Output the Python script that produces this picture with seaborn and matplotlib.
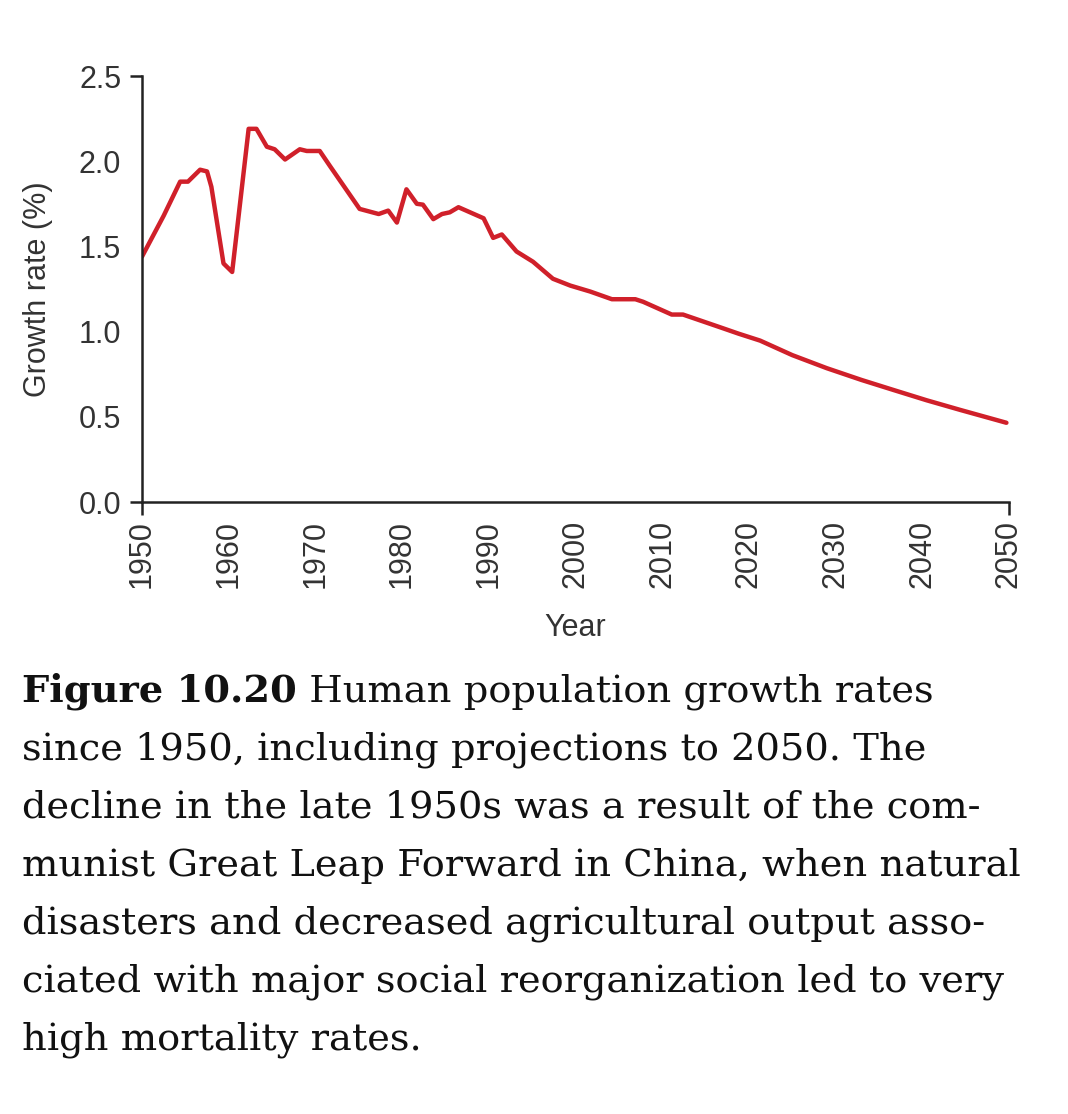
import matplotlib
matplotlib.use("Agg")
import matplotlib.pyplot as plt
import seaborn as sns
import pandas as pd

# ---- data ----
years = [1950, 1952.5, 1954.4, 1955.3, 1956.7, 1957.5, 1958.0, 1959.4, 1960.4,
         1962.3, 1963.2, 1964.4, 1965.3, 1966.5, 1968.2, 1969.0, 1970.5, 1971.7,
         1975.1, 1977.3, 1978.4, 1979.4, 1980.5, 1981.7, 1982.4, 1983.6, 1984.6,
         1985.5, 1986.5, 1989.4, 1990.5, 1991.5, 1993.2, 1995.1, 1997.4, 1999.4,
         2001.7, 2004.2, 2006.9, 2007.8, 2011.1, 2012.4, 2016.7, 2018.8, 2021.3,
         2025.0, 2029.0, 2033.0, 2036.7, 2040.5, 2044.4, 2049.7]
growth_rate = [1.44, 1.68, 1.88, 1.88, 1.95, 1.94, 1.85, 1.40, 1.35,
               2.19, 2.19, 2.085, 2.07, 2.01, 2.07, 2.06, 2.06, 1.97,
               1.72, 1.69, 1.71, 1.64, 1.835, 1.75, 1.745, 1.66, 1.69,
               1.70, 1.73, 1.665, 1.55, 1.57, 1.47, 1.41, 1.31, 1.27,
               1.235, 1.19, 1.19, 1.175, 1.10, 1.10, 1.025, 0.988, 0.947,
               0.862, 0.785, 0.716, 0.657, 0.597, 0.54, 0.465]

x_ticks = [1950, 1960, 1970, 1980, 1990, 2000, 2010, 2020, 2030, 2040, 2050]
x_tick_labels = [str(v) for v in x_ticks]
y_ticks = [0.0, 0.5, 1.0, 1.5, 2.0, 2.5]
y_tick_labels = ["0.0", "0.5", "1.0", "1.5", "2.0", "2.5"]

x_label = "Year"
y_label = "Growth rate (%)"

caption_bold = "Figure 10.20"
caption_lines = [
    " Human population growth rates",
    "since 1950, including projections to 2050. The",
    "decline in the late 1950s was a result of the com-",
    "munist Great Leap Forward in China, when natural",
    "disasters and decreased agricultural output asso-",
    "ciated with major social reorganization led to very",
    "high mortality rates.",
]

df = pd.DataFrame({"Year": years, "Growth": growth_rate})

# ---- style ----
sns.set_theme(style="ticks")
plt.rcParams["font.family"] = ["Liberation Sans", "DejaVu Sans"]

W, H = 1068, 1114
fig = plt.figure(figsize=(W / 100, H / 100), dpi=100)
fig.patch.set_facecolor("white")

ax_left, ax_right, ax_top, ax_bottom = 142, 1009, 76, 502
ax = fig.add_axes([ax_left / W, 1 - ax_bottom / H,
                   (ax_right - ax_left) / W, (ax_bottom - ax_top) / H])
ax.set_facecolor("white")

sns.lineplot(data=df, x="Year", y="Growth", ax=ax, color="#d0202a",
             linewidth=3.2, sort=False, estimator=None)

ax.set_xlim(1950, 2050)
ax.set_ylim(0, 2.5)

axis_col = "#222222"
text_col = "#333333"

ax.set_xticks(x_ticks)
ax.set_xticklabels(x_tick_labels, rotation=90)
ax.set_yticks(y_ticks)
ax.set_yticklabels(y_tick_labels)
ax.tick_params(which="major", length=0, labelsize=22, labelcolor=text_col)
ax.tick_params(axis="y", which="major", pad=15)
ax.tick_params(axis="x", which="major", pad=13)

# end ticks only
ax.set_xticks([1950, 2050], minor=True)
ax.set_yticks([0.0, 2.5], minor=True)
ax.xaxis.remove_overlapping_locs = False
ax.yaxis.remove_overlapping_locs = False
ax.tick_params(which="minor", length=9, width=1.8, color=axis_col)

for s in ["top", "right"]:
    ax.spines[s].set_visible(False)
for s in ["left", "bottom"]:
    ax.spines[s].set_linewidth(1.8)
    ax.spines[s].set_color(axis_col)

ax.set_xlabel(x_label, fontsize=22, color=text_col)
ax.set_ylabel(y_label, fontsize=22, color=text_col)
ax.xaxis.set_label_coords(0.5, (ax_bottom - 613) / (ax_bottom - ax_top))
ax.yaxis.set_label_coords((53 - ax_left) / (ax_right - ax_left), 0.5)

# ---- caption ----
renderer = fig.canvas.get_renderer()
serif = "DejaVu Serif"
probe = fig.text(0, 0, caption_lines[3], fontfamily=serif, fontsize=26)
w = probe.get_window_extent(renderer).width
probe.remove()
cap_size = 26 * 1000 / w

x0 = 22
base0 = 702
step = 58.0
tb = fig.text(x0 / W, 1 - base0 / H, caption_bold, fontfamily=serif,
              fontweight="bold", fontsize=cap_size, va="baseline",
              ha="left", color="#111111")
bw = tb.get_window_extent(renderer).width
fig.text((x0 + bw) / W, 1 - base0 / H, caption_lines[0], fontfamily=serif,
         fontsize=cap_size, va="baseline", ha="left", color="#111111")
for i, line in enumerate(caption_lines[1:], start=1):
    fig.text(x0 / W, 1 - (base0 + i * step) / H, line, fontfamily=serif,
             fontsize=cap_size, va="baseline", ha="left", color="#111111")

fig.savefig("out.png", dpi=100, facecolor="white")
